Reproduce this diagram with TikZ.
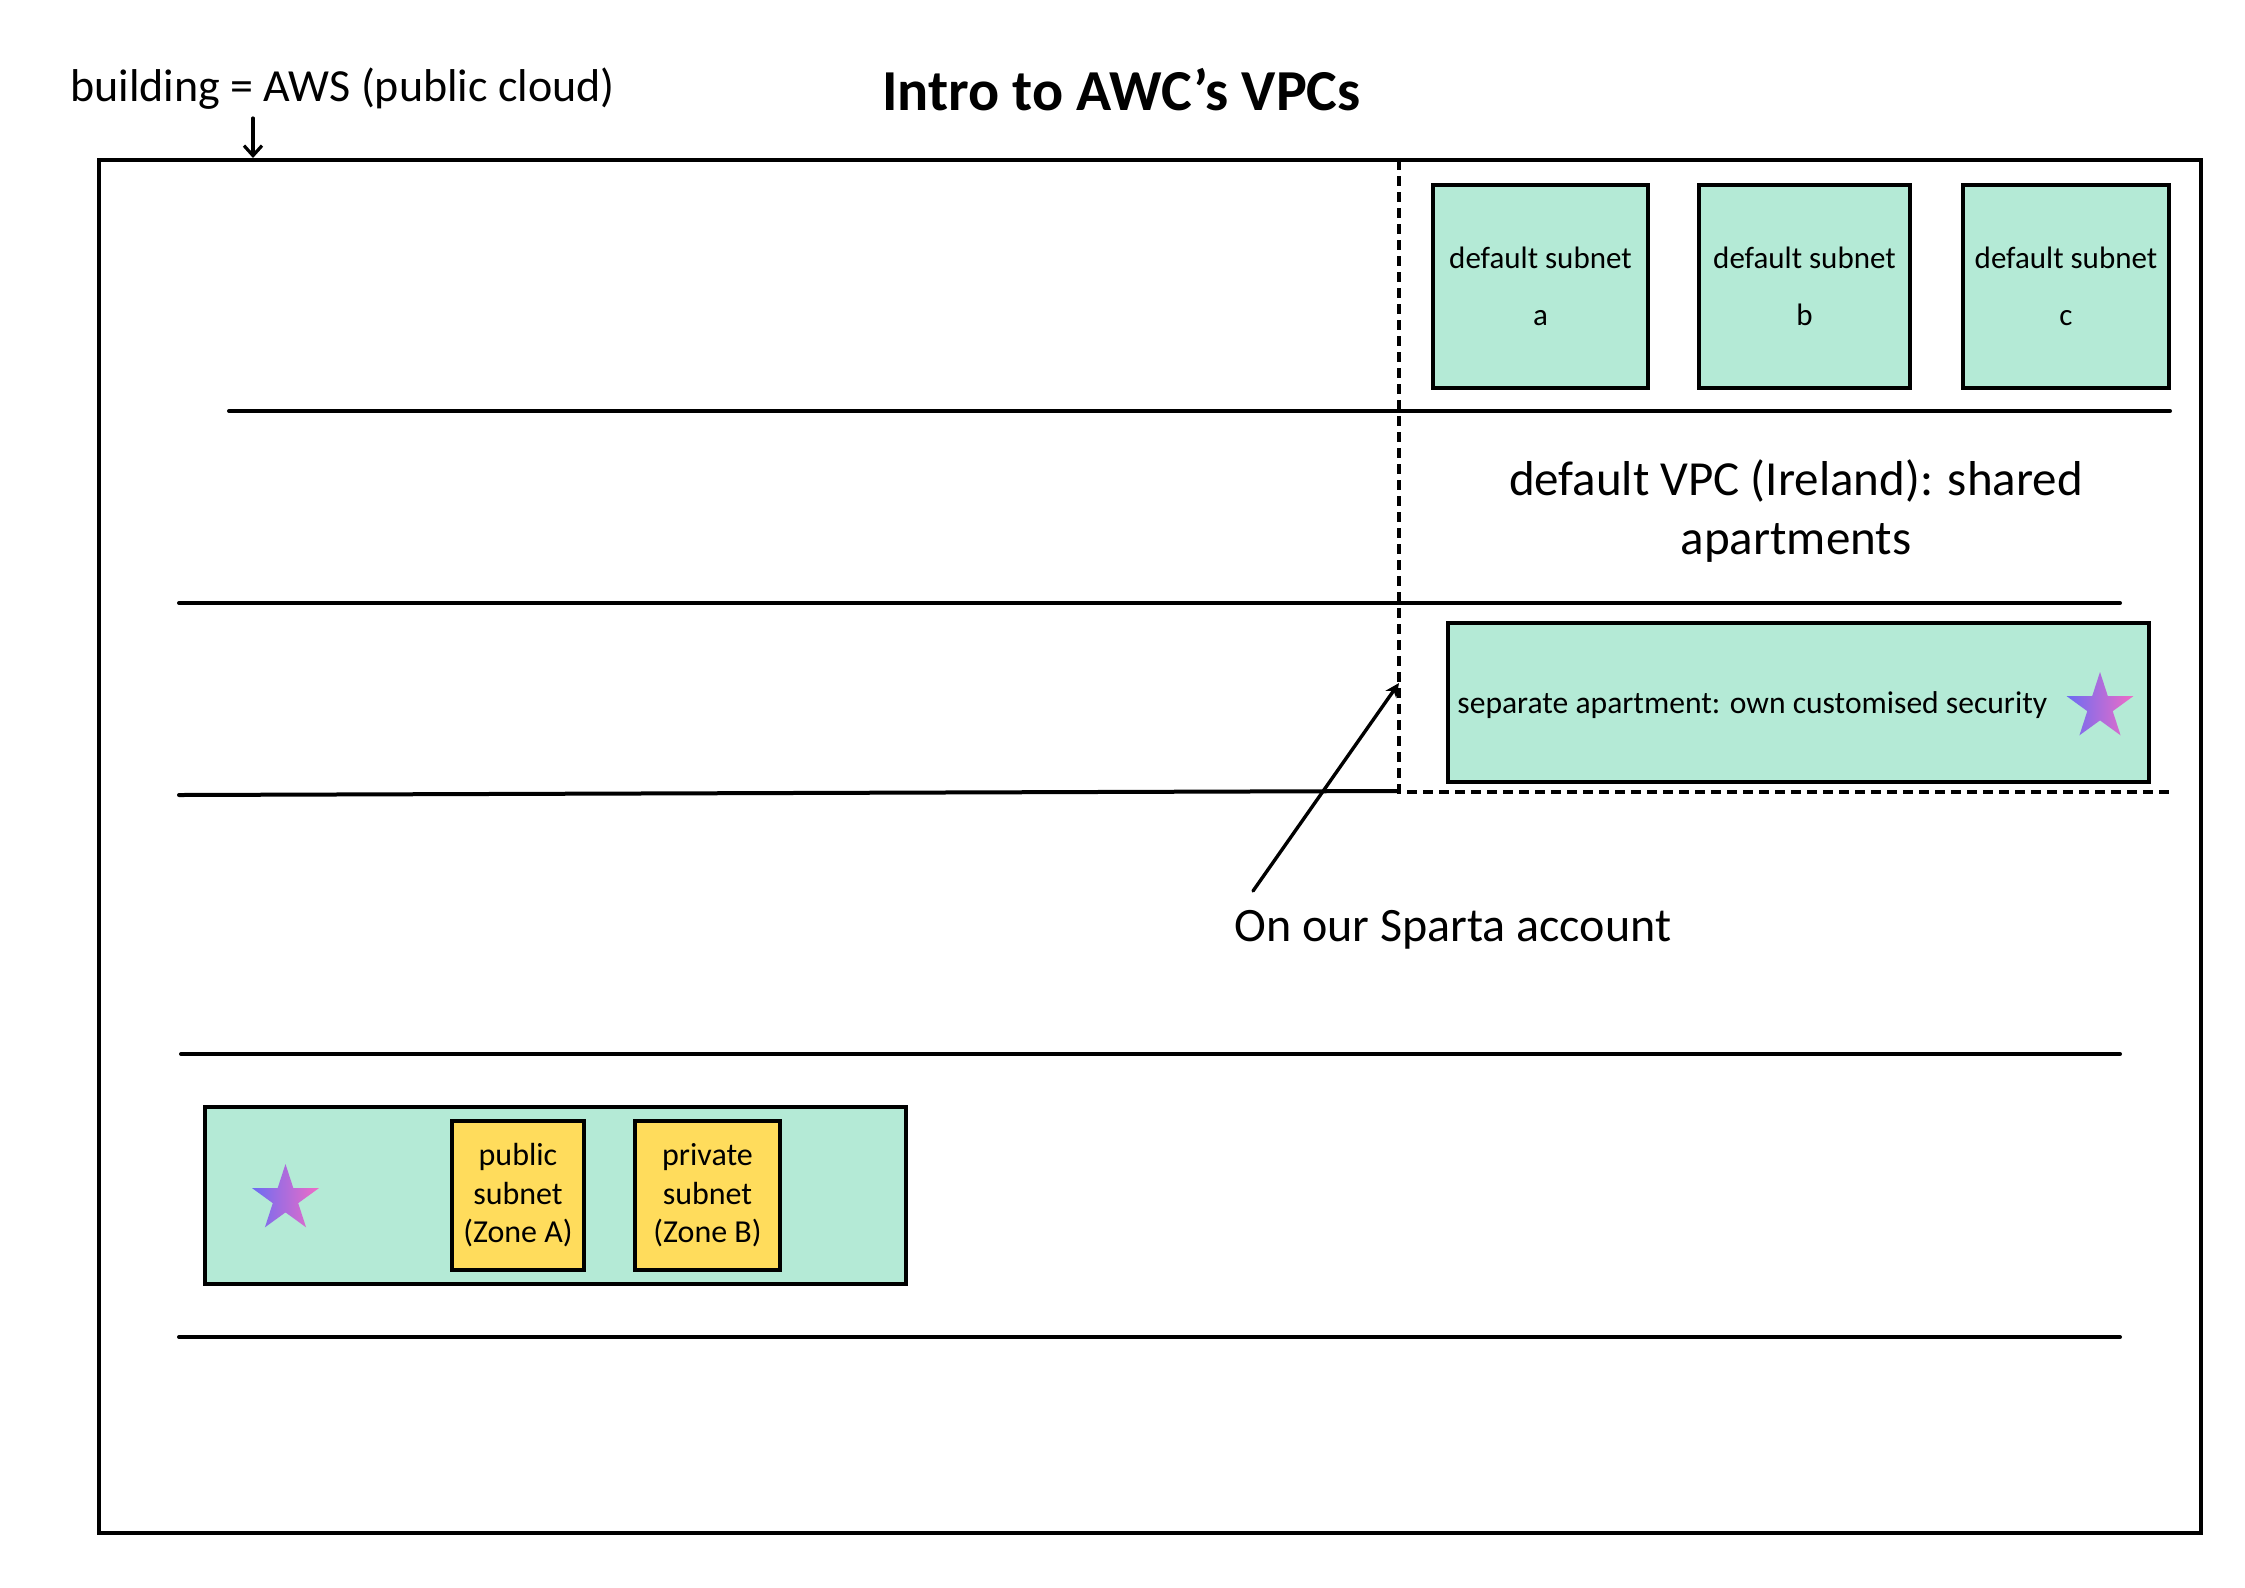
\documentclass[tikz,border=0pt]{standalone}
\usepackage{fontspec}
\setmainfont{Carlito}
\usetikzlibrary{shapes.geometric,arrows.meta}
\definecolor{mint}{HTML}{B4EAD6}
\definecolor{sunny}{HTML}{FFDC5C}
\definecolor{starblue}{HTML}{6B6CF2}
\definecolor{starpink}{HTML}{F06CC6}
\begin{document}
\begin{tikzpicture}[x=0.5pt,y=-0.5pt,
  floorline/.style={line width=2pt, line cap=round},
  dashline/.style={line width=1.7pt, dash pattern=on 5pt off 3pt},
  mintbox/.style={draw, fill=mint, line width=1.7pt, inner sep=0pt},
  subnetbox/.style={mintbox, minimum height=101.5pt, align=center,
    font=\fontsize{15.5}{28.5}\selectfont},
  zonebox/.style={draw, fill=sunny, line width=1.8pt, inner sep=0pt,
    minimum height=74.5pt, align=center, font=\fontsize{16}{19.25}\selectfont},
  gradstar/.style={star, star points=5, star point ratio=2.618, inner sep=0pt,
    minimum size=35pt, draw=none, left color=starblue, right color=starpink},
  label/.style={inner sep=0pt}
]
\useasboundingbox (0,0) rectangle (2245,1587);
\fill[white] (0,0) rectangle (2245,1587);

% building frame
\node[draw, line width=1.6pt, minimum width=1051pt, minimum height=686.5pt, inner sep=0pt]
  (building) at (1150,846.5) {};

% titles
\node[label, anchor=base west, font=\fontsize{23}{27}\selectfont] (buildlabel) at (70,101)
  {building = AWS (public cloud)};
\node[label, anchor=base west, font=\fontsize{29}{34}\selectfont\bfseries] (title) at (882,110)
  {Intro to AWC’s VPCs};
\coordinate (buildtail) at (253,118);
\coordinate (buildhead) at (253,158);
\draw[line width=1.6pt, line cap=round, -{Straight Barb[length=5pt,width=9pt]}] (buildtail) -- (buildhead);

% floors
\draw[floorline] (229,411) -- (2170,411);
\draw[floorline] (179,603) -- (2120,603);
\draw[floorline] (179,795) -- (1397,791);
\draw[floorline] (181,1054) -- (2120,1054);
\draw[floorline] (179,1337) -- (2120,1337);

% account boundary
\draw[dashline] (1399,160) -- (1399,792) -- (2170,792);

% default subnets
\node[subnetbox, minimum width=107.5pt] (suba) at (1540.5,286.5) {default subnet\\a};
\node[subnetbox, minimum width=105.5pt] (subb) at (1804.5,286.5) {default subnet\\b};
\node[subnetbox, minimum width=103pt] (subc) at (2066,286.5) {default subnet\\c};

\node[label, align=center, font=\fontsize{24.5}{29.5}\selectfont] (defvpc) at (1796,511)
  {default VPC (Ireland): shared\\apartments};

% separate apartment
\node[mintbox, minimum width=350.5pt, minimum height=79.5pt] (sepapt) at (1798.5,702.5) {};
\node[label, anchor=base west, font=\fontsize{15.8}{19}\selectfont] (septext) at (1457,713)
  {separate apartment: own customised security};
\node[gradstar] (star1) at (2100,707) {};

% Sparta account label
\node[label, anchor=base west, font=\fontsize{24}{28}\selectfont] (sparta) at (1234,941)
  {On our Sparta account};
\coordinate (spartatail) at (1253,891);
\coordinate (spartahead) at (1399,683);
\draw[line width=1.7pt, line cap=round, -{Stealth[length=7pt,width=6.5pt]}] (spartatail) -- (spartahead);

% own VPC
\node[mintbox, minimum width=350.5pt, minimum height=88.5pt] (ownvpc) at (555.5,1195.5) {};
\node[gradstar] (star2) at (285.5,1199) {};
\node[zonebox, minimum width=66pt] (pubsub) at (518,1195.5) {public\\subnet\\(Zone A)};
\node[zonebox, minimum width=72.5pt] (privsub) at (707.5,1195.5) {private\\subnet\\(Zone B)};
\end{tikzpicture}
\end{document}
